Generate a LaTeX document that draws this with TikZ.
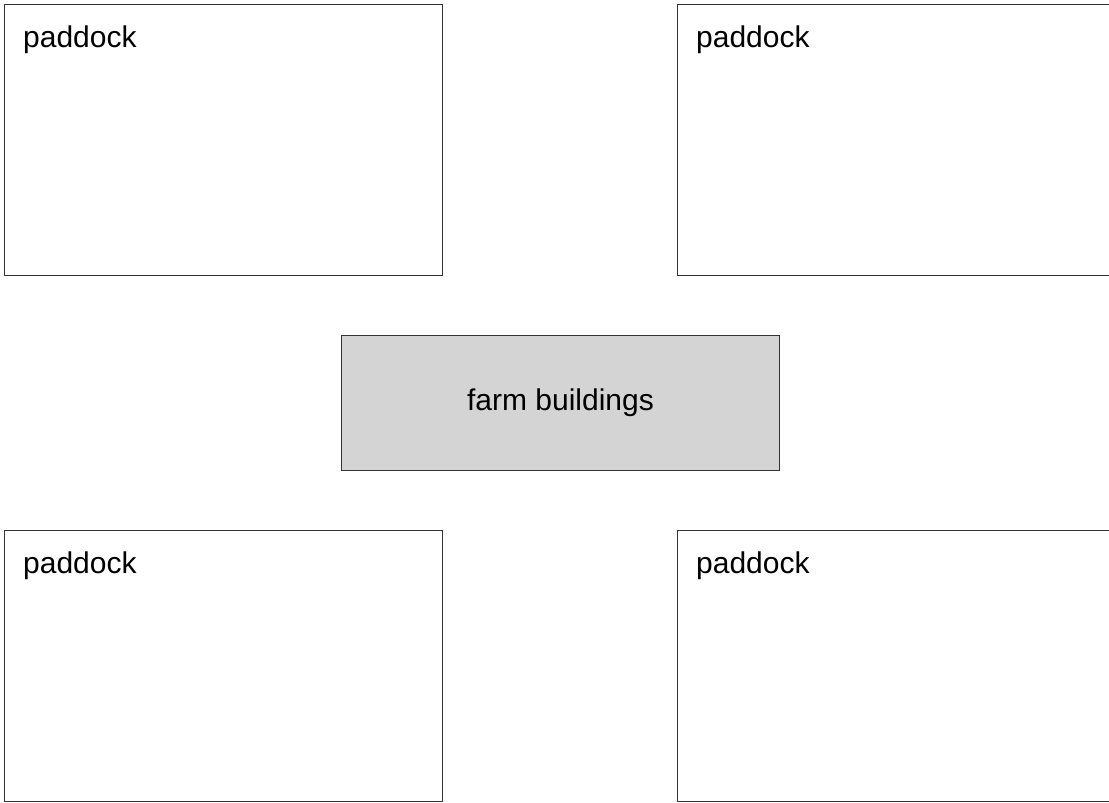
\documentclass[tikz,border=0pt]{standalone}
\usepackage{fontspec}
\setmainfont{Liberation Sans}
\usetikzlibrary{positioning}

\begin{document}
\begin{tikzpicture}[
    x=1pt, y=-1pt,
    paddock/.style={
        draw=black!80,
        line width=1pt,
        minimum width=438pt,
        minimum height=271pt,
        anchor=north west,
        inner sep=0pt,
    },
    plabel/.style={
        font=\fontsize{30}{36}\selectfont,
        anchor=base west,
        inner sep=0pt,
    },
    buildings/.style={
        draw=black!80,
        fill=black!17,
        line width=1pt,
        minimum width=438pt,
        minimum height=135pt,
        anchor=north west,
        font=\fontsize{30}{36}\selectfont,
    },
]
\useasboundingbox (0,0) rectangle (1109,803);
\clip (0,0) rectangle (1109,803);

% --- Paddocks ---
\node[paddock] (pnw) at (4,4) {};
\node[paddock] (pne) at (677,4) {};
\node[paddock] (psw) at (4,530) {};
\node[paddock] (pse) at (677,530) {};

\foreach \p in {pnw, pne, psw, pse} {
    \node[plabel] (\p-label) at ([shift={(19pt,-43pt)}]\p.north west) {paddock};
}

% --- Farm buildings (middle) ---
\node[buildings] (farm) at (341,335) {farm buildings};

\end{tikzpicture}
\end{document}
